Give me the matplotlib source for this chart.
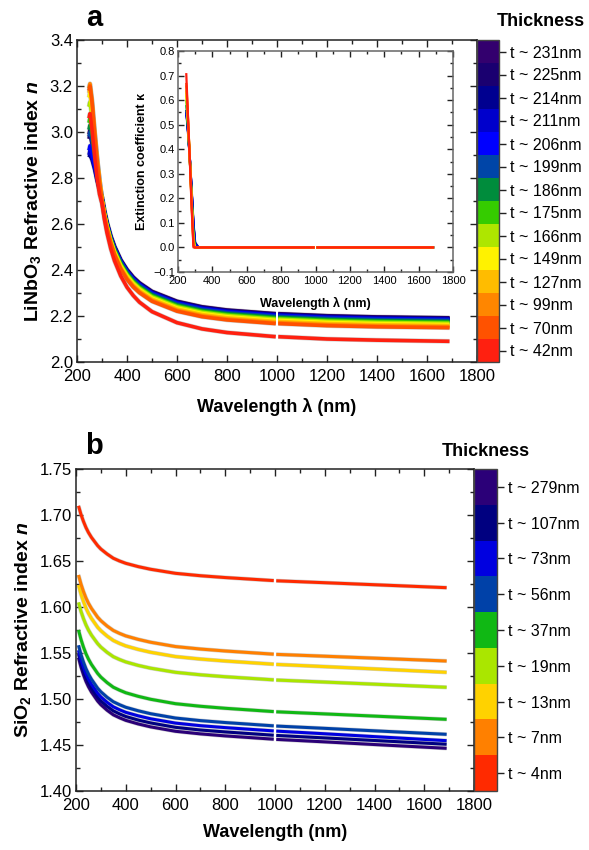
import numpy as np
import matplotlib
matplotlib.use("Agg")
import matplotlib.pyplot as plt
from matplotlib.colors import ListedColormap, BoundaryNorm
from matplotlib.cm import ScalarMappable
from matplotlib.ticker import MultipleLocator, FormatStrFormatter

plt.rcParams['font.family'] = ['Liberation Sans', 'DejaVu Sans']
plt.rcParams['mathtext.fontset'] = 'custom'
plt.rcParams['mathtext.rm'] = 'Liberation Sans'
plt.rcParams['mathtext.bf'] = 'Liberation Sans:bold'
plt.rcParams['mathtext.it'] = 'Liberation Sans:italic'
plt.rcParams['mathtext.bfit'] = 'Liberation Sans:bold:italic'

nan = np.nan

# ---------------- Panel a : LiNbO3 ----------------
wl_a = [248, 252, 260, 270, 280, 290, 300, 310, 320, 335, 350, 375, 400, 425, 450, 500,
        600, 700, 800, 995, 1000, 1005, 1200, 1400, 1690]
thick_a = ["t ~ 42nm", "t ~ 70nm", "t ~ 99nm", "t ~ 127nm", "t ~ 149nm", "t ~ 166nm",
           "t ~ 175nm", "t ~ 186nm", "t ~ 199nm", "t ~ 206nm", "t ~ 211nm", "t ~ 214nm",
           "t ~ 225nm", "t ~ 231nm"]
colors_a = ['#FF2010', '#FF5200', '#FF8600', '#FFBC00', '#FFF200', '#AEE600', '#35CC00',
            '#008C3C', '#0045A8', '#0000FF', '#0000CC', '#000090', '#1A0070', '#33006E']

n_42 = [3.06, 3.08, 3.01, 2.90, 2.80, 2.73, 2.688, 2.618, 2.561, 2.493, 2.440, 2.374, 2.325, 2.289, 2.260, 2.219, 2.171, 2.144, 2.128, 2.110, nan, 2.110, 2.100, 2.095, 2.090]
n_70 = [3.18, 3.20, 3.13, 3.00, 2.88, 2.78, 2.703, 2.636, 2.580, 2.517, 2.466, 2.404, 2.359, 2.326, 2.301, 2.264, 2.221, 2.197, 2.183, 2.167, nan, 2.167, 2.158, 2.153, 2.149]
n_99 = [3.19, 3.21, 3.14, 3.01, 2.89, 2.79, 2.704, 2.637, 2.583, 2.520, 2.470, 2.408, 2.363, 2.330, 2.305, 2.268, 2.225, 2.201, 2.187, 2.171, nan, 2.171, 2.162, 2.157, 2.153]
n_127 = [3.17, 3.19, 3.12, 3.00, 2.89, 2.79, 2.705, 2.640, 2.586, 2.523, 2.474, 2.413, 2.368, 2.335, 2.310, 2.273, 2.230, 2.206, 2.192, 2.176, nan, 2.176, 2.167, 2.162, 2.158]
n_149 = [3.15, 3.17, 3.10, 2.99, 2.88, 2.79, 2.707, 2.642, 2.589, 2.527, 2.478, 2.417, 2.373, 2.340, 2.315, 2.278, 2.235, 2.211, 2.197, 2.181, nan, 2.181, 2.172, 2.167, 2.163]
n_166 = [3.11, 3.13, 3.07, 2.97, 2.87, 2.78, 2.708, 2.644, 2.592, 2.531, 2.482, 2.422, 2.378, 2.345, 2.320, 2.283, 2.240, 2.216, 2.202, 2.186, nan, 2.186, 2.177, 2.172, 2.168]
n_175 = [3.04, 3.06, 3.01, 2.92, 2.84, 2.77, 2.710, 2.646, 2.594, 2.533, 2.486, 2.426, 2.382, 2.349, 2.324, 2.287, 2.244, 2.220, 2.206, 2.190, nan, 2.190, 2.181, 2.176, 2.172]
n_186 = [3.01, 3.03, 2.99, 2.91, 2.83, 2.77, 2.711, 2.648, 2.597, 2.536, 2.489, 2.430, 2.386, 2.353, 2.328, 2.291, 2.248, 2.224, 2.210, 2.194, nan, 2.194, 2.185, 2.180, 2.176]
n_199 = [2.98, 3.00, 2.96, 2.89, 2.82, 2.76, 2.712, 2.650, 2.600, 2.540, 2.493, 2.434, 2.391, 2.358, 2.333, 2.296, 2.253, 2.229, 2.215, 2.199, nan, 2.199, 2.190, 2.185, 2.181]
n_206 = [2.92, 2.94, 2.91, 2.86, 2.80, 2.75, 2.713, 2.651, 2.601, 2.542, 2.496, 2.437, 2.394, 2.361, 2.336, 2.299, 2.256, 2.232, 2.218, 2.202, nan, 2.202, 2.193, 2.188, 2.184]
n_211 = [2.90, 2.92, 2.89, 2.85, 2.80, 2.75, 2.714, 2.652, 2.603, 2.544, 2.498, 2.439, 2.396, 2.363, 2.338, 2.301, 2.258, 2.234, 2.220, 2.204, nan, 2.204, 2.195, 2.190, 2.186]
n_214 = [2.89, 2.90, 2.88, 2.84, 2.79, 2.75, 2.714, 2.653, 2.604, 2.545, 2.499, 2.441, 2.398, 2.365, 2.340, 2.303, 2.260, 2.236, 2.222, 2.206, nan, 2.206, 2.197, 2.192, 2.188]
n_225 = [2.97, 2.99, 2.95, 2.89, 2.82, 2.76, 2.715, 2.654, 2.605, 2.546, 2.501, 2.443, 2.400, 2.367, 2.342, 2.305, 2.262, 2.238, 2.224, 2.208, nan, 2.208, 2.199, 2.194, 2.190]
n_231 = [2.99, 3.01, 2.97, 2.90, 2.83, 2.77, 2.716, 2.655, 2.606, 2.548, 2.503, 2.444, 2.402, 2.369, 2.344, 2.307, 2.264, 2.240, 2.226, 2.210, nan, 2.210, 2.201, 2.196, 2.192]
n_a = [n_42, n_70, n_99, n_127, n_149, n_166, n_175, n_186, n_199, n_206, n_211, n_214, n_225, n_231]

# inset: extinction coefficient
wl_k = [248, 252, 260, 270, 280, 290, 300, 320, 995, 1000, 1005, 1690]
k_42 = [0.71, 0.64, 0.50, 0.33, 0.15, 0.00, 0.00, 0.0, 0.0, nan, 0.0, 0.0]
k_70 = [0.67, 0.62, 0.50, 0.34, 0.16, 0.005, 0.0, 0.0, 0.0, nan, 0.0, 0.0]
k_99 = [0.66, 0.61, 0.50, 0.34, 0.17, 0.01, 0.0, 0.0, 0.0, nan, 0.0, 0.0]
k_127 = [0.64, 0.60, 0.49, 0.34, 0.17, 0.02, 0.0, 0.0, 0.0, nan, 0.0, 0.0]
k_149 = [0.63, 0.59, 0.49, 0.34, 0.18, 0.02, 0.0, 0.0, 0.0, nan, 0.0, 0.0]
k_166 = [0.62, 0.58, 0.48, 0.34, 0.18, 0.03, 0.0, 0.0, 0.0, nan, 0.0, 0.0]
k_175 = [0.60, 0.57, 0.48, 0.34, 0.19, 0.04, 0.0, 0.0, 0.0, nan, 0.0, 0.0]
k_186 = [0.58, 0.55, 0.47, 0.34, 0.20, 0.05, 0.0, 0.0, 0.0, nan, 0.0, 0.0]
k_199 = [0.56, 0.54, 0.46, 0.34, 0.21, 0.07, 0.0, 0.0, 0.0, nan, 0.0, 0.0]
k_206 = [0.55, 0.53, 0.46, 0.35, 0.22, 0.09, 0.01, 0.0, 0.0, nan, 0.0, 0.0]
k_211 = [0.55, 0.53, 0.46, 0.35, 0.22, 0.09, 0.01, 0.0, 0.0, nan, 0.0, 0.0]
k_214 = [0.54, 0.52, 0.45, 0.35, 0.23, 0.10, 0.02, 0.0, 0.0, nan, 0.0, 0.0]
k_225 = [0.55, 0.53, 0.46, 0.35, 0.22, 0.09, 0.01, 0.0, 0.0, nan, 0.0, 0.0]
k_231 = [0.56, 0.54, 0.46, 0.35, 0.22, 0.08, 0.01, 0.0, 0.0, nan, 0.0, 0.0]
k_a = [k_42, k_70, k_99, k_127, k_149, k_166, k_175, k_186, k_199, k_206, k_211, k_214, k_225, k_231]

# ---------------- Panel b : SiO2 ----------------
wl_b = [210, 220, 230, 240, 250, 262, 275, 287, 300, 325, 350, 375, 400, 450, 500, 600,
        700, 800, 995, 1000, 1005, 1200, 1400, 1690]
thick_b = ["t ~ 4nm", "t ~ 7nm", "t ~ 13nm", "t ~ 19nm", "t ~ 37nm", "t ~ 56nm",
           "t ~ 73nm", "t ~ 107nm", "t ~ 279nm"]
colors_b = ['#FF2A00', '#FF8000', '#FFD200', '#AAE600', '#10B814', '#0041A8', '#0000E0',
            '#000080', '#2B0078']
s_4 = [1.7100, 1.7006, 1.6930, 1.6864, 1.6810, 1.6757, 1.6710, 1.6667, 1.6630, 1.6576, 1.6530, 1.6500, 1.6475, 1.6439, 1.6410, 1.6366, 1.6340, 1.6320, 1.6287, nan, 1.6285, 1.6264, 1.6242, 1.6210]
s_7 = [1.6348, 1.6249, 1.6168, 1.6098, 1.6041, 1.5985, 1.5935, 1.5889, 1.5851, 1.5793, 1.5745, 1.5713, 1.5686, 1.5648, 1.5617, 1.5570, 1.5543, 1.5522, 1.5487, nan, 1.5485, 1.5465, 1.5444, 1.5413]
s_13 = [1.6239, 1.6140, 1.6059, 1.5989, 1.5932, 1.5876, 1.5826, 1.5780, 1.5742, 1.5684, 1.5636, 1.5604, 1.5577, 1.5539, 1.5508, 1.5461, 1.5434, 1.5413, 1.5378, nan, 1.5376, 1.5352, 1.5327, 1.5290]
s_19 = [1.6050, 1.5953, 1.5874, 1.5806, 1.5750, 1.5695, 1.5646, 1.5602, 1.5564, 1.5507, 1.5460, 1.5429, 1.5403, 1.5365, 1.5335, 1.5290, 1.5263, 1.5242, 1.5208, nan, 1.5206, 1.5184, 1.5161, 1.5127]
s_37 = [1.5750, 1.5648, 1.5564, 1.5492, 1.5434, 1.5376, 1.5325, 1.5278, 1.5238, 1.5178, 1.5128, 1.5096, 1.5068, 1.5029, 1.4997, 1.4949, 1.4921, 1.4899, 1.4863, nan, 1.4861, 1.4838, 1.4814, 1.4779]
s_56 = [1.5584, 1.5483, 1.5401, 1.5330, 1.5272, 1.5215, 1.5164, 1.5117, 1.5078, 1.5019, 1.4970, 1.4938, 1.4910, 1.4872, 1.4840, 1.4793, 1.4765, 1.4744, 1.4708, nan, 1.4706, 1.4681, 1.4654, 1.4616]
s_73 = [1.5530, 1.5428, 1.5346, 1.5275, 1.5217, 1.5160, 1.5109, 1.5062, 1.5023, 1.4964, 1.4915, 1.4883, 1.4855, 1.4817, 1.4785, 1.4738, 1.4710, 1.4689, 1.4653, nan, 1.4651, 1.4622, 1.4591, 1.4547]
s_107 = [1.5490, 1.5388, 1.5305, 1.5233, 1.5175, 1.5117, 1.5066, 1.5019, 1.4979, 1.4920, 1.4871, 1.4838, 1.4810, 1.4771, 1.4740, 1.4692, 1.4663, 1.4642, 1.4606, nan, 1.4604, 1.4577, 1.4549, 1.4508]
s_279 = [1.5450, 1.5348, 1.5264, 1.5192, 1.5134, 1.5076, 1.5025, 1.4978, 1.4938, 1.4878, 1.4828, 1.4796, 1.4768, 1.4729, 1.4697, 1.4649, 1.4621, 1.4599, 1.4563, nan, 1.4561, 1.4534, 1.4505, 1.4464]
n_b = [s_4, s_7, s_13, s_19, s_37, s_56, s_73, s_107, s_279]

W, H = 589, 850
fig = plt.figure(figsize=(W / 100, H / 100), dpi=100)


def fx(px):
    return px / W


def fy(py):
    return 1 - py / H


def style_axes(ax, size, major=5, minor=3, xpad=5, ypad=3):
    ax.tick_params(which='both', direction='in', top=True, right=True, labelsize=size,
                   width=1.0, colors='#222222', labelcolor='black')
    ax.tick_params(which='major', length=major)
    ax.tick_params(which='minor', length=minor)
    ax.tick_params(axis='x', pad=xpad)
    ax.tick_params(axis='y', pad=ypad)
    for sp in ax.spines.values():
        sp.set_linewidth(1.1)
        sp.set_color('#222222')


def draw_colorbar(cax, colors, labels):
    n = len(colors)
    cmap = ListedColormap(colors)
    norm = BoundaryNorm(np.arange(n + 1), n)
    sm = ScalarMappable(norm=norm, cmap=cmap)
    cb = fig.colorbar(sm, cax=cax, ticks=np.arange(n) + 0.5)
    cb.ax.set_yticklabels(labels)
    cb.ax.tick_params(direction='out', length=5, width=1.0, labelsize=11.5, pad=3,
                      colors='#222222', labelcolor='black')
    cb.ax.minorticks_off()
    cb.outline.set_linewidth(1.0)
    cb.outline.set_color('#444444')
    return cb


# ---- panel a main axes
ax1 = fig.add_axes([fx(77), fy(362), fx(477) - fx(77), fy(40) - fy(362)])
for vals, c in zip(n_a[::-1], colors_a[::-1]):
    ax1.plot(wl_a, vals, color='#a0a0a0', lw=3.4, alpha=0.5, solid_capstyle='butt', zorder=2)
    ax1.plot(wl_a, vals, color=c, lw=2.6, solid_capstyle='butt', zorder=3)
ax1.set_xlim(200, 1800)
ax1.set_ylim(2.0, 3.4)
ax1.xaxis.set_major_locator(MultipleLocator(200))
ax1.xaxis.set_minor_locator(MultipleLocator(100))
ax1.yaxis.set_major_locator(MultipleLocator(0.2))
ax1.yaxis.set_minor_locator(MultipleLocator(0.1))
style_axes(ax1, 12)
ax1.set_xlabel('Wavelength λ (nm)', fontsize=13, fontweight='bold', labelpad=10)
ax1.set_ylabel(r'LiNbO$_{\mathbf{3}}$ Refractive index $\mathbfit{n}$', fontsize=14,
               fontweight='bold', labelpad=5)

# inset
axi = fig.add_axes([fx(178), fy(272), fx(453) - fx(178), fy(51) - fy(272)])
for vals, c in zip(k_a[::-1], colors_a[::-1]):
    axi.plot(wl_k, vals, color=c, lw=1.6, solid_capstyle='butt')
axi.set_xlim(200, 1800)
axi.set_ylim(-0.1, 0.8)
axi.xaxis.set_major_locator(MultipleLocator(200))
axi.xaxis.set_minor_locator(MultipleLocator(100))
axi.yaxis.set_major_locator(MultipleLocator(0.1))
axi.yaxis.set_minor_locator(MultipleLocator(0.05))
style_axes(axi, 8, major=4, minor=2.5, xpad=3, ypad=2)
for sp in axi.spines.values():
    sp.set_color('#666666')
axi.set_xlabel('Wavelength λ (nm)', fontsize=9, fontweight='bold', labelpad=8)
axi.set_ylabel('Extinction coefficient κ', fontsize=9, fontweight='bold', labelpad=4)

cax1 = fig.add_axes([fx(477), fy(362), fx(499) - fx(477), fy(40) - fy(362)])
draw_colorbar(cax1, colors_a, thick_a)

fig.text(fx(94), fy(18), 'a', fontsize=21, fontweight='bold', ha='center', va='center')
fig.text(fx(541), fy(21), 'Thickness', fontsize=13, fontweight='bold', ha='center', va='center')

# ---- panel b
ax2 = fig.add_axes([fx(76), fy(791), fx(474) - fx(76), fy(469) - fy(791)])
for vals, c in zip(n_b[::-1], colors_b[::-1]):
    ax2.plot(wl_b, vals, color='#a0a0a0', lw=3.0, alpha=0.5, solid_capstyle='butt', zorder=2)
    ax2.plot(wl_b, vals, color=c, lw=2.2, solid_capstyle='butt', zorder=3)
ax2.set_xlim(200, 1800)
ax2.set_ylim(1.40, 1.75)
ax2.xaxis.set_major_locator(MultipleLocator(200))
ax2.xaxis.set_minor_locator(MultipleLocator(100))
ax2.yaxis.set_major_locator(MultipleLocator(0.05))
ax2.yaxis.set_minor_locator(MultipleLocator(0.025))
style_axes(ax2, 12)
ax2.yaxis.set_major_formatter(FormatStrFormatter('%.2f'))
ax2.set_xlabel('Wavelength (nm)', fontsize=13, fontweight='bold', labelpad=8)
ax2.set_ylabel(r'SiO$_{\mathbf{2}}$ Refractive index $\mathbfit{n}$', fontsize=14,
               fontweight='bold', labelpad=5)

cax2 = fig.add_axes([fx(474), fy(791), fx(497) - fx(474), fy(469) - fy(791)])
draw_colorbar(cax2, colors_b, thick_b)

fig.text(fx(94), fy(446), 'b', fontsize=21, fontweight='bold', ha='center', va='center')
fig.text(fx(486), fy(452), 'Thickness', fontsize=13, fontweight='bold', ha='center', va='center')

fig.savefig('out.png', dpi=100)
